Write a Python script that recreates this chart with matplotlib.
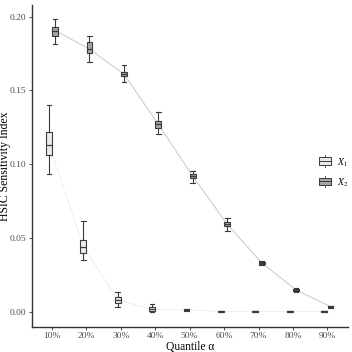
import matplotlib
matplotlib.use("Agg")
import matplotlib.pyplot as plt
from matplotlib.patches import Rectangle
from matplotlib.lines import Line2D
from matplotlib.legend_handler import HandlerBase
import numpy as np

quantiles = ["10%", "20%", "30%", "40%", "50%", "60%", "70%", "80%", "90%"]
# X1 stats: whisker low, q1, median, q3, whisker high
x1_wlo = [0.0932, 0.0351, 0.0036, 0.0000, 0.0006, 0.0001, 0.0001, 0.0001, 0.0001]
x1_q1  = [0.1060, 0.0400, 0.0059, 0.0006, 0.0010, 0.0002, 0.0002, 0.0002, 0.0002]
x1_med = [0.1133, 0.0441, 0.0081, 0.0018, 0.0014, 0.0003, 0.0003, 0.0003, 0.0003]
x1_q3  = [0.1218, 0.0486, 0.0101, 0.0032, 0.0018, 0.0004, 0.0004, 0.0004, 0.0004]
x1_whi = [0.1400, 0.0617, 0.0135, 0.0052, 0.0022, 0.0005, 0.0005, 0.0005, 0.0005]
# X2 stats
x2_wlo = [0.1815, 0.1690, 0.1554, 0.1205, 0.0875, 0.0547, 0.0320, 0.0138, 0.0030]
x2_q1  = [0.1865, 0.1755, 0.1595, 0.1248, 0.0905, 0.0581, 0.0326, 0.0143, 0.0033]
x2_med = [0.1905, 0.1780, 0.1610, 0.1270, 0.0918, 0.0595, 0.0333, 0.0149, 0.0036]
x2_q3  = [0.1928, 0.1826, 0.1626, 0.1290, 0.0932, 0.0610, 0.0340, 0.0155, 0.0039]
x2_whi = [0.1980, 0.1865, 0.1669, 0.1356, 0.0955, 0.0633, 0.0346, 0.0160, 0.0042]
series_labels = ["$X_1$", "$X_2$"]
fills = ["#ebebeb", "#a6a6a6"]

plt.rcParams['font.family'] = ['Liberation Serif', 'DejaVu Serif']
plt.rcParams['mathtext.fontset'] = 'stix'

fig = plt.figure(figsize=(3.52, 3.52), dpi=100)
ax = fig.add_axes([32/352, 1-327/352, (348-32)/352, (327-5)/352])

pos = np.arange(1, len(quantiles) + 1)
dodge = 0.09
width = 0.17
edge = "#3a3a3a"

def draw(series, offset, fill):
    wlo, q1, med, q3, whi = series
    stats = []
    for i in range(len(pos)):
        stats.append(dict(whislo=wlo[i], q1=q1[i], med=med[i], q3=q3[i], whishi=whi[i], fliers=[]))
    ax.bxp(stats, positions=pos + offset, widths=width, patch_artist=True, manage_ticks=False,
           boxprops=dict(facecolor=fill, edgecolor=edge, linewidth=0.8),
           medianprops=dict(color=edge, linewidth=0.9),
           whiskerprops=dict(color=edge, linewidth=0.8),
           capprops=dict(color=edge, linewidth=0.8), capwidths=width*0.8, zorder=3)

ax.plot(pos - dodge, x1_med, color="#d0d0d0", lw=0.6, ls=(0, (1, 1.5)), zorder=1)
ax.plot(pos + dodge, x2_med, color="#c8c8c8", lw=0.7, zorder=1)
draw((x1_wlo, x1_q1, x1_med, x1_q3, x1_whi), -dodge, fills[0])
draw((x2_wlo, x2_q1, x2_med, x2_q3, x2_whi), dodge, fills[1])

ax.set_xlim(0.42, 9.6)
ax.set_ylim(-0.0102, 0.2078)
ax.set_xticks(pos)
ax.set_xticklabels(quantiles)
ax.set_yticks([0.0, 0.05, 0.10, 0.15, 0.20])
ax.set_yticklabels(["0.00", "0.05", "0.10", "0.15", "0.20"])
ax.tick_params(labelsize=6.8, colors="#4d4d4d", length=2.5, width=0.6, pad=1.5)
ax.tick_params(axis='x', pad=1.0)
ax.tick_params(axis='both', color="#333333")
for s in ["top", "right"]:
    ax.spines[s].set_visible(False)
for s in ["left", "bottom"]:
    ax.spines[s].set_linewidth(1.0)
    ax.spines[s].set_color("#333333")
ax.set_xlabel("Quantile α", fontsize=8.3, va="baseline")
ax.set_ylabel("HSIC Sensitivity Index", fontsize=8.5, va="center")
ax.xaxis.set_label_coords(0.5, (327-349.5)/322)
ax.yaxis.set_label_coords((5-32)/316, 0.5)

class BoxHandler(HandlerBase):
    def __init__(self, fill):
        super().__init__()
        self.fill = fill
    def create_artists(self, legend, orig, xd, yd, w, h, fs, trans):
        arts = []
        cx = xd + w / 2
        arts.append(Line2D([cx, cx], [yd - 0.2*h, yd + 1.2*h], color=edge, lw=0.6, transform=trans))
        arts.append(Rectangle((xd, yd + 0.05*h), w, 0.9*h, facecolor=self.fill, edgecolor=edge, lw=0.7, transform=trans))
        arts.append(Line2D([xd, xd + w], [yd + 0.5*h, yd + 0.5*h], color=edge, lw=0.7, transform=trans))
        return arts

h1 = Rectangle((0, 0), 1, 1)
h2 = Rectangle((0, 0), 1, 1)
leg = ax.legend([h1, h2], series_labels, handler_map={h1: BoxHandler(fills[0]), h2: BoxHandler(fills[1])},
                loc="center left", bbox_to_anchor=(0.88, 0.478), frameon=False, fontsize=7,
                handlelength=1.3, handleheight=0.9, labelspacing=0.8, handletextpad=0.6)

fig.savefig("out.png", dpi=100)
